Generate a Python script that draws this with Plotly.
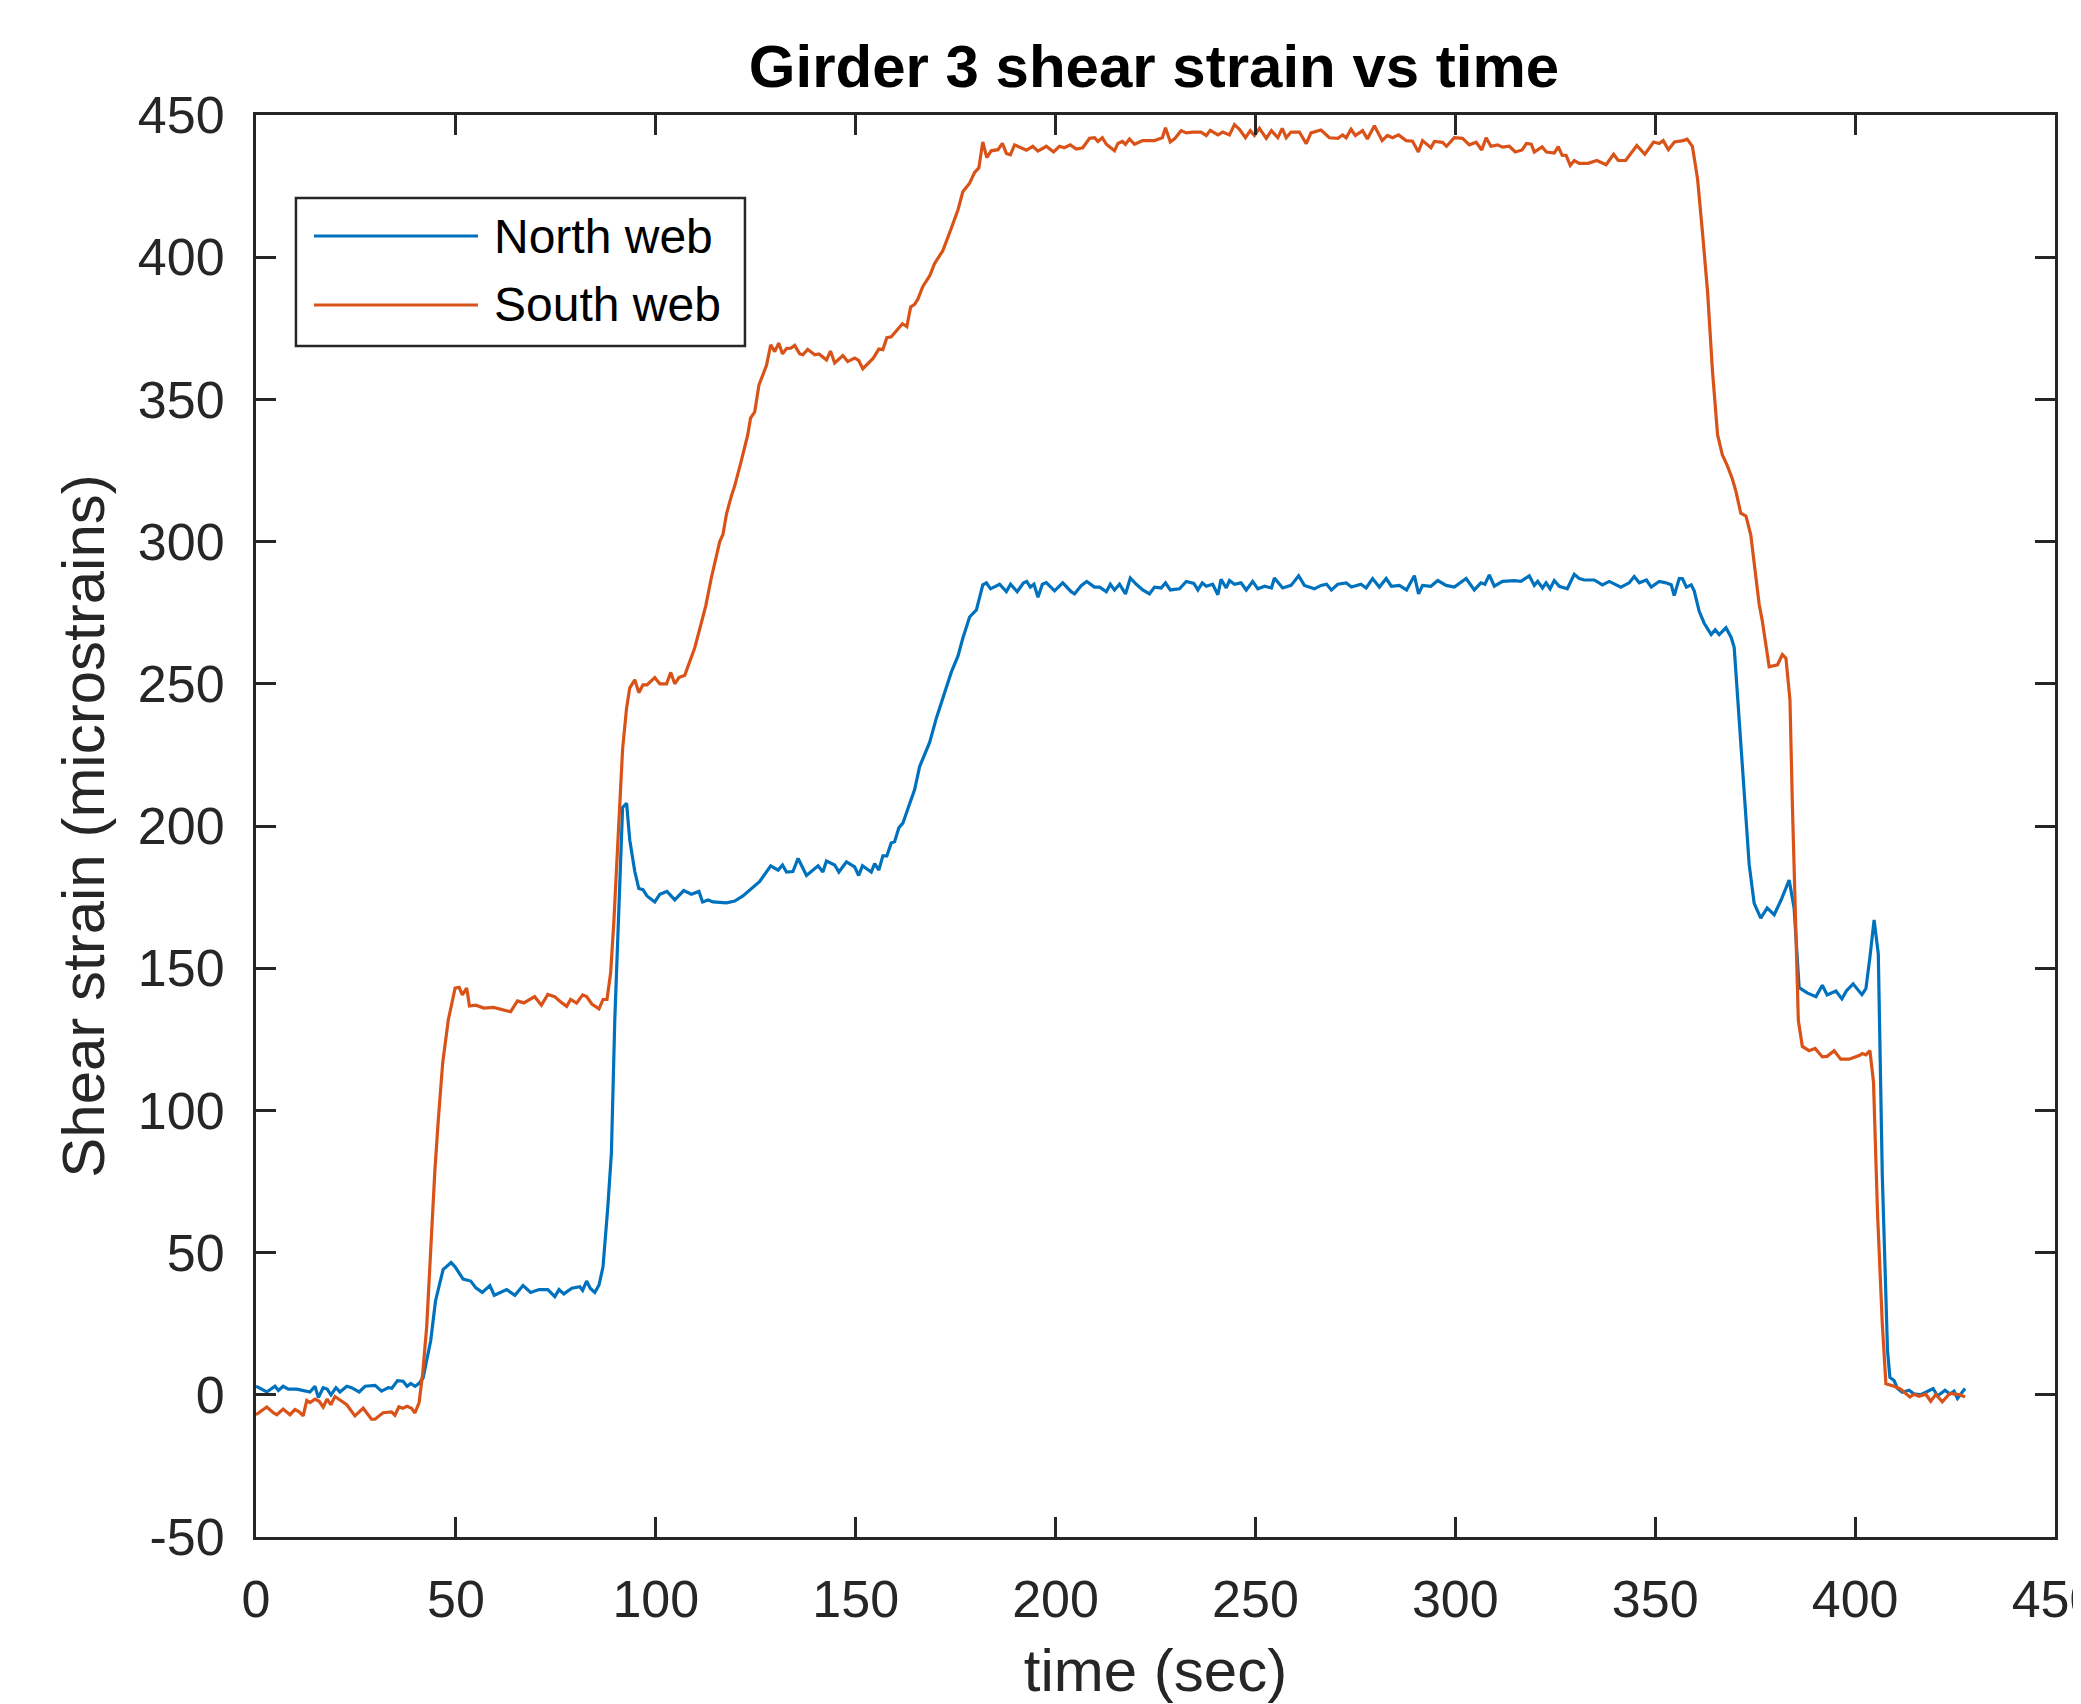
import plotly.graph_objects as go

# Girder 3 web shear strain gauges (microstrain) vs time (s)
north_t = [0, 2.7, 4.75, 5.6, 6.8, 8.1, 10.2, 11.8, 13.5, 14.75, 15.6, 16.8, 17.8, 18.75, 20, 21, 22.7, 23.9, 25.8, 27.3,
           29.8, 31.4, 33.1, 34, 35.4, 36.8, 37.8, 38.7, 39.8, 40.8, 41.8, 43.7, 44.9, 46.8, 48.8, 49.8, 51.8, 53.7, 55, 56.6,
           58.5, 59.6, 61, 62.7, 64.75, 66.8, 68.7, 70.8, 73, 74.75, 75.8, 77, 79, 81, 81.7, 82.7, 83.6, 84.75, 85.8, 86.8,
           88, 88.9, 89.75, 91.7, 92.7, 93.5, 94.75, 95.75, 96.8, 97.8, 99.75, 101, 102.8, 104.75, 107, 108.9, 110.8, 111.7, 113.1, 114.3,
           117.7, 119.75, 121.8, 123.9, 126, 128.75, 130.6, 131.7, 132.7, 134.3, 135.6, 137.7, 140.6, 141.8, 142.7, 144.75, 145.8, 147.7, 149.75, 150.75,
           151.7, 153.9, 154.75, 155.8, 156.8, 157.8, 158.9, 159.75, 160.8, 161.8, 163.5, 164.75, 166, 168.5, 170.2, 171.8, 173.9, 175.6, 176.8, 178.5,
           180.2, 181.8, 182.7, 183.75, 186, 187.7, 188.75, 190.4, 192, 192.8, 193.7, 194.6, 195.6, 196.7, 197.7, 199.75, 201.8, 203.9, 204.75, 206.4,
           207.8, 209.75, 211, 212.7, 213.7, 214.75, 216, 217.5, 218.7, 220.2, 221.8, 223.5, 224.75, 226.4, 227.5, 228.7, 231, 232.7, 234.6, 235.6,
           236.7, 237.7, 239.3, 240.6, 241.4, 242.7, 243.5, 244.75, 246.4, 247.7, 249.3, 250.6, 252.3, 254, 254.75, 256.8, 258.9, 260.8, 262.25, 264.75,
           266.4, 267.8, 269, 270.6, 272.7, 274, 276.4, 277.7, 279.3, 281, 282.7, 284, 286, 287.8, 289.75, 290.8, 291.8, 293.9, 295.6, 297.7,
           299.75, 302.7, 304.75, 306.4, 307.4, 308.5, 309.75, 311.8, 314.75, 316.4, 318.5, 319.75, 320.6, 321.8, 322.7, 323.7, 324.75, 326, 328, 329.75,
           331, 332.25, 334.75, 336.8, 338.5, 341.4, 343.5, 344.75, 346, 347.8, 349, 351, 352.7, 354, 354.75, 356, 356.8, 357.8, 359, 359.75,
           361, 362.25, 364, 365, 366, 367.7, 369, 369.75, 371, 372.25, 373.5, 374.75, 376.4, 378, 379.75, 381.4, 383.5, 384.75, 386, 388,
           390.2, 391.8, 393, 395.2, 396.7, 397.8, 399.5, 401.7, 402.7, 403.7, 404.75, 405.8, 406.8, 408.1, 408.7, 409.75, 410.6, 411.8, 413.5, 414.75,
           416.4, 417.7, 419.5, 420.6, 422.5, 423.7, 424.75, 425.6, 426.4, 427.5]
north_web = [3, 1, 3, 1.5, 3, 2, 2, 1.5, 1, 3, -1, 2.5, 2, 0, 2.5, 1, 3, 2.5, 1, 3,
             3.3, 1.3, 2.5, 2.3, 5, 4.8, 3, 4, 3, 4, 6, 19, 33, 44, 46.5, 45, 40.7, 40, 37.6, 36,
             38.4, 35, 36, 37, 35, 38.4, 36, 37, 37, 34.5, 37, 35.5, 37.5, 38, 36.7, 40, 37.5, 36, 38.6, 45,
             66, 85, 132, 206.5, 208, 195, 184, 178, 177.6, 175.4, 173.3, 176, 177, 174, 177.3, 176, 177, 173.3, 174, 173.3,
             173, 173.6, 175.4, 177.8, 180.5, 186, 184.5, 186.3, 183.8, 184, 188.6, 182.6, 186, 183.8, 187.7, 186.3, 183.8, 187.4, 185.6, 182.6,
             186, 183.8, 186.8, 184.5, 189.5, 189.5, 194, 194.5, 199.4, 201, 207.5, 212.8, 220.9, 229.4, 238, 244.8, 254, 259.8, 266, 273.5,
             276, 284.8, 285.5, 283.4, 285, 282.4, 285, 282.4, 285.5, 286, 284, 285, 280.4, 285, 285.6, 282.7, 285.5, 282.4, 281.6, 284.5,
             286, 284, 284, 282.4, 285, 283, 285, 281.6, 287.2, 285, 283, 281.6, 284, 283.7, 285.5, 283, 283.4, 286, 285.3, 283,
             285.5, 284.3, 285, 281.3, 286.7, 283.7, 286.3, 285, 285.5, 283, 286, 283.4, 284.3, 283.7, 287.2, 283.7, 284.6, 288, 284.6, 283.4,
             284.6, 285, 283, 285, 285.5, 284, 285, 283.7, 287, 284, 287, 284.3, 284.6, 283, 288, 281.6, 284.6, 284.3, 286.3, 284.6,
             284, 287, 283, 285.5, 285, 288.3, 284.3, 286, 286.3, 286, 288, 284.6, 286, 283.7, 285.5, 283.4, 286.3, 284.3, 283.4, 288.5,
             287, 286.5, 286.5, 284.8, 286, 284, 285.5, 287.7, 285.5, 286.5, 284, 286, 285.5, 284.8, 281, 287, 287, 284, 284.8, 282.7,
             275.5, 271.3, 267.3, 269, 267.3, 269.7, 266.3, 262.8, 238.4, 211, 186.5, 172.8, 167.6, 171.2, 168.8, 173.7, 181, 171, 143.2, 141.3,
             140, 144, 140.6, 142, 139.2, 142, 144.5, 140.7, 142.8, 153.8, 167, 155, 77, 15.8, 6.1, 5, 2.2, 0.9, 1.6, 0.3,
             0, 0.9, 2.2, -0.4, 1.6, 0.3, 1.3, -1.3, 0.3, 2.2]

south_t = [0, 2.7, 4.4, 5.2, 6.8, 8.5, 9.75, 10.8, 11.8, 12.7, 13.5, 14.75, 15.8, 16.8, 17.8, 18.7, 19.75, 22.7, 24.75, 26.8,
           28.9, 29.75, 31.8, 33.9, 34.75, 35.75, 36.7, 37.8, 38.9, 39.75, 40.8, 41.7, 42.7, 43.9, 44.75, 45.6, 46.7, 48.1, 48.8, 49.8,
           50.8, 51.6, 52.7, 53.4, 55, 57, 59.4, 63.7, 65.4, 67, 69.7, 71.4, 73, 74.7, 76, 77.7, 78.7, 80.2, 81.7, 82.7,
           84, 85.8, 86.8, 87.8, 88.7, 89.5, 90.6, 91.7, 92.7, 93.5, 94.75, 95.75, 96.8, 97.8, 99.75, 101, 102.7, 103.75, 104.75, 105.8,
           107.25, 108.5, 109.75, 111, 112.5, 113.9, 115.2, 116, 116.8, 117.7, 118.9, 119.75, 121.4, 123, 123.7, 124.75, 125.8, 127.7, 128.75, 129.75,
           130.75, 131.7, 132.7, 133.75, 134.75, 136, 136.8, 138, 139.75, 140.8, 142.7, 143.7, 144.75, 146.8, 148, 149.75, 150.75, 151.8, 154.4, 155.8,
           156.8, 157.8, 158.9, 159.75, 161.7, 162.8, 163.75, 164.75, 165.6, 166.8, 168.5, 169.75, 171.8, 173.5, 175.6, 176.8, 178.5, 179.75, 180.8, 181.8,
           182.8, 183.9, 185.6, 186.7, 187.7, 188.7, 189.75, 192.7, 194.3, 195.6, 197.7, 199.5, 201, 202.2, 203.7, 205.2, 206.8, 208.5, 209.75, 210.6,
           211.7, 212.7, 214.75, 215.6, 216.7, 217.5, 218.5, 219.75, 221.8, 224.75, 226.7, 227.5, 228.7, 229.75, 231.4, 232.7, 234.3, 236.4, 237.7, 238.7,
           240.6, 241.8, 243.5, 244.75, 246, 247.5, 248.7, 249.75, 251, 252.7, 254, 255.6, 256.7, 257.7, 258.9, 261, 262.7, 263.9, 266.4, 268.5,
           270.6, 271.8, 272.7, 273.9, 275, 276.8, 278, 279.75, 281.7, 283, 284.3, 285.8, 287.7, 289.3, 290.75, 291.8, 293.9, 294.75, 296.8, 297.8,
           299.75, 301.8, 303.5, 305.2, 306.6, 307.7, 308.9, 310.6, 311.8, 313.5, 315, 316.7, 317.8, 319, 319.75, 321.7, 322.8, 324.75, 325.75, 326.7,
           327.7, 328.75, 329.75, 331, 333.2, 335.4, 337.7, 339.6, 340.75, 342.6, 345.4, 347.4, 349.6, 351, 352, 353.3, 354.8, 357, 358, 359.3,
           360.6, 361.8, 363.1, 364.3, 365.6, 366.8, 368, 369.3, 370.2, 371.4, 372.7, 373.9, 375.2, 376, 376.8, 378.5, 380.6, 381.8, 382.7, 383.7,
           384.3, 385.2, 385.8, 386.8, 388.5, 390, 391.8, 393, 394.75, 396.4, 398.5, 401, 401.8, 402.7, 403.7, 404.6, 405.6, 406.8, 407.7, 409.75,
           411.4, 412.7, 413.7, 414.75, 416, 417.7, 418.9, 420.2, 421.8, 423.7, 425.2, 426.4, 427.5]
south_web = [-7, -4.3, -6.4, -7, -5, -7, -5.2, -6, -7.4, -2, -2.7, -1.5, -2.3, -4.3, -1.5, -3.5, -0.6, -3.5, -7.4, -4.7,
             -8.6, -8.6, -6.3, -6, -7.2, -4.2, -4.7, -4, -4.7, -6.4, -2.7, 7.6, 24, 56.8, 79, 96.7, 116.7, 131.8, 136.9, 143,
             143.3, 140.6, 143, 136.7, 137, 136, 136.2, 134.7, 138.5, 137.8, 140, 137, 140.8, 140, 138.4, 136.6, 139, 137.7, 140.6, 140,
             137.4, 135.7, 139, 139, 148.2, 166, 196.7, 227, 241.5, 248.6, 251.4, 246.9, 249.6, 249.6, 252.2, 250, 250, 254, 250, 252.2,
             253, 257.7, 262.7, 269.3, 277.4, 287.3, 295.3, 300, 302.5, 309.8, 316, 319.6, 328.5, 337.5, 343.4, 345.6, 355, 362, 369.2, 366.8,
             369.8, 366, 367.9, 368, 369, 366, 365.7, 367.6, 365.7, 366, 363.9, 367, 362.8, 365.4, 363.3, 364.5, 363.7, 360.8, 364.5, 367.7,
             367.5, 371.7, 372, 373.4, 376.6, 375.6, 382.5, 383.4, 385.4, 389.7, 393.4, 397.8, 402.3, 408.6, 416.7, 423, 426, 429.8, 431.4, 440.5,
             435, 437.4, 437.8, 440, 436.5, 436, 439.5, 437.6, 439, 437.3, 439, 437, 439, 438.5, 439.5, 438, 438.5, 441.8, 442, 440.7,
             442, 439.7, 437.4, 440, 440.7, 439.7, 441.6, 439.7, 441, 441, 442, 445.5, 440.5, 441.6, 444.5, 443.7, 444, 444, 442.8, 444.6,
             443, 444, 443, 446.6, 445, 442, 444.5, 442.8, 445.3, 441.8, 444.5, 442, 445.3, 442, 444, 444, 439.9, 443.7, 444.7, 442,
             441.8, 443, 442, 445, 442.8, 444.5, 441.6, 446.2, 441, 442.8, 442, 443, 441, 440.8, 437, 441, 438.5, 440.7, 440.4, 439,
             442, 441.8, 439.5, 440.4, 437.7, 442, 439, 439.5, 438.7, 439, 437, 437.7, 440, 439.7, 437, 438.8, 437, 436.6, 438.9, 435.9,
             435.8, 432.3, 434, 433, 433, 434, 432.5, 436.2, 434, 434, 439.3, 436.2, 440.5, 440, 441, 437.8, 440.5, 441, 441.5, 439,
             427.4, 409, 387.8, 360.4, 337.5, 330.5, 326.8, 322, 317.6, 310, 309, 302.4, 287.2, 278, 272, 256, 256.7, 260.3, 259, 244.4,
             207.9, 162, 131.6, 122.5, 121, 121.8, 118.8, 119, 121, 118, 118, 119.3, 120, 119.5, 121, 110, 64, 25, 3.9, 3,
             2, 0.4, -0.8, 0.2, -0.5, 0.2, -2.3, 0.2, -2.5, 0.5, 0.2, 0, -0.8]

series_names = ["North web", "South web"]
series_colors = ["#0072BD", "#D95319"]

x_ticks = [0, 50, 100, 150, 200, 250, 300, 350, 400, 450]
y_ticks = [-50, 0, 50, 100, 150, 200, 250, 300, 350, 400, 450]
y_tick_labels = ["-50", "0", "50", "100", "150", "200", "250", "300", "350", "400", "450"]

AX = "#262626"
FONT = "Liberation Sans, Arial, sans-serif"

fig = go.Figure()
fig.add_trace(go.Scatter(x=north_t, y=north_web, mode="lines", name=series_names[0],
                         line=dict(color=series_colors[0], width=3.2), showlegend=False))
fig.add_trace(go.Scatter(x=south_t, y=south_web, mode="lines", name=series_names[1],
                         line=dict(color=series_colors[1], width=3.2), showlegend=False))

axis_common = dict(
    showgrid=False, zeroline=False, showline=True, linecolor=AX, linewidth=3,
    mirror="ticks", ticks="inside", ticklen=20, tickwidth=2.5, tickcolor=AX,
    tickfont=dict(family=FONT, size=52, color=AX), ticklabeloverflow="allow", automargin=False,
)
fig.update_xaxes(range=[0, 450], tickvals=x_ticks, ticklabelstandoff=15,
                 title=dict(text="time (sec)", font=dict(family=FONT, size=60, color=AX), standoff=22),
                 **axis_common)
fig.update_yaxes(range=[-50, 450], tickvals=y_ticks, ticktext=y_tick_labels, ticklabelstandoff=18,
                 title=dict(text="Shear strain (microstrains)", font=dict(family=FONT, size=60, color=AX), standoff=14),
                 **axis_common)

# MATLAB-style legend box, drawn in paper coordinates
fig.add_shape(type="rect", xref="paper", yref="paper", x0=0.0222, x1=0.2718, y0=0.8376, y1=0.9416,
              line=dict(color=AX, width=2.5), fillcolor="white", layer="above")
for name, color, ly in zip(series_names, series_colors, [0.9149, 0.8664]):
    fig.add_shape(type="line", xref="paper", yref="paper", x0=0.0322, x1=0.1234, y0=ly, y1=ly,
                  line=dict(color=color, width=3.2), layer="above")
    fig.add_annotation(text=name, xref="paper", yref="paper", x=0.1312, y=ly, xanchor="left", yanchor="middle",
                       showarrow=False, font=dict(family=FONT, size=48, color="black"))

# page body adds an 8 px offset, so margins are trimmed to keep the plot box in place
fig.update_layout(
    width=2081, height=1704,
    margin=dict(l=248, r=34, t=107, b=175),
    paper_bgcolor="white", plot_bgcolor="white",
    title=dict(text="<b>Girder 3 shear strain vs time</b>", x=0.5507, xanchor="center",
               y=0.966, yanchor="middle", font=dict(family=FONT, size=60, color="black")),
)

fig.write_html("out.html")
